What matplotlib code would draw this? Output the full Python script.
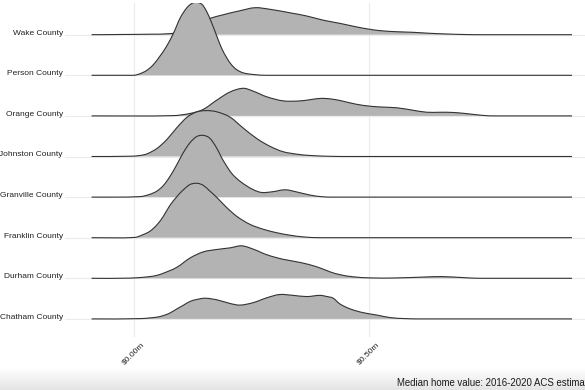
import numpy as np
import matplotlib
matplotlib.use("Agg")
import matplotlib.pyplot as plt
from matplotlib.path import Path
from matplotlib.patches import PathPatch

plt.rcParams['font.family'] = ['Liberation Sans', 'DejaVu Sans']

# ---------------- data ----------------
counties = ["Chatham County", "Durham County", "Franklin County", "Granville County",
            "Johnston County", "Orange County", "Person County", "Wake County"]
tick_values = [0.0, 0.5]
tick_labels = ["$0.00m", "$0.50m"]
caption = "Median home value: 2016-2020 ACS estimate"

# x in $ millions, h = scaled density height (1 = one ridge spacing)
wake_x = [-0.089, -0.029, 0.035, 0.077, 0.099, 0.120, 0.141, 0.162, 0.190, 0.226, 0.258, 0.290, 0.332,
          0.368, 0.402, 0.438, 0.470, 0.498, 0.523, 0.557, 0.593, 0.630, 0.666, 0.700, 0.736, 0.931]
wake_h = [0, 0.005, 0.012, 0.025, 0.07, 0.17, 0.30, 0.40, 0.49, 0.59, 0.665, 0.625, 0.54,
          0.46, 0.36, 0.28, 0.20, 0.14, 0.10, 0.074, 0.059, 0.034, 0.017, 0.005, 0, 0]

person_x = [-0.089, 0.000, 0.014, 0.028, 0.042, 0.056, 0.070, 0.085, 0.099, 0.113, 0.124, 0.133,
            0.145, 0.155, 0.166, 0.177, 0.187, 0.198, 0.208, 0.219, 0.233, 0.254, 0.283, 0.931]
person_h = [0, 0, 0.04, 0.12, 0.26, 0.47, 0.71, 1.04, 1.41, 1.66, 1.77, 1.80,
            1.75, 1.58, 1.29, 0.96, 0.67, 0.43, 0.26, 0.14, 0.06, 0.02, 0, 0]

orange_x = [-0.089, 0.084, 0.120, 0.148, 0.177, 0.205, 0.233, 0.254, 0.283, 0.318, 0.354, 0.396, 0.417,
            0.438, 0.460, 0.487, 0.523, 0.559, 0.593, 0.623, 0.651, 0.678, 0.708, 0.742, 0.768, 0.931]
orange_h = [0, 0.007, 0.06, 0.16, 0.39, 0.59, 0.68, 0.61, 0.47, 0.37, 0.37, 0.43, 0.42,
            0.38, 0.32, 0.26, 0.22, 0.20, 0.14, 0.09, 0.09, 0.085, 0.055, 0.012, 0, 0]

johnston_x = [-0.089, -0.007, 0.014, 0.029, 0.050, 0.071, 0.092, 0.114, 0.135, 0.156, 0.177,
              0.205, 0.232, 0.262, 0.290, 0.317, 0.347, 0.375, 0.417, 0.460, 0.931]
johnston_h = [0, 0.007, 0.025, 0.067, 0.20, 0.42, 0.71, 0.97, 1.10, 1.13, 1.10,
              0.97, 0.71, 0.44, 0.25, 0.12, 0.057, 0.025, 0.005, 0, 0]

granville_x = [-0.089, 0.014, 0.035, 0.050, 0.063, 0.077, 0.092, 0.106, 0.120, 0.134, 0.148, 0.162,
               0.176, 0.190, 0.211, 0.241, 0.269, 0.294, 0.322, 0.349, 0.375, 0.402, 0.428, 0.931]
granville_h = [0, 0.012, 0.07, 0.15, 0.28, 0.50, 0.80, 1.10, 1.34, 1.49, 1.52, 1.45,
               1.22, 0.91, 0.55, 0.27, 0.12, 0.13, 0.18, 0.12, 0.05, 0.007, 0, 0]

franklin_x = [-0.089, 0.003, 0.020, 0.035, 0.050, 0.063, 0.077, 0.092, 0.105, 0.120, 0.135, 0.148,
              0.162, 0.177, 0.199, 0.220, 0.247, 0.275, 0.305, 0.332, 0.360, 0.396, 0.931]
franklin_h = [0, 0.007, 0.074, 0.16, 0.32, 0.52, 0.79, 1.01, 1.17, 1.31, 1.34, 1.29,
              1.15, 0.99, 0.73, 0.52, 0.33, 0.21, 0.12, 0.062, 0.02, 0, 0]

durham_x = [-0.089, -0.007, 0.035, 0.050, 0.063, 0.092, 0.120, 0.148, 0.177, 0.205, 0.230, 0.256, 0.283,
            0.317, 0.354, 0.390, 0.417, 0.438, 0.466, 0.502, 0.555, 0.615, 0.655, 0.700, 0.736, 0.931]
durham_h = [0, 0.005, 0.042, 0.074, 0.123, 0.27, 0.50, 0.65, 0.71, 0.75, 0.80, 0.71, 0.58,
            0.47, 0.39, 0.28, 0.16, 0.09, 0.037, 0.01, 0.008, 0.03, 0.042, 0.017, 0, 0]

chatham_x = [-0.089, 0.014, 0.050, 0.063, 0.077, 0.092, 0.105, 0.120, 0.135, 0.152, 0.177, 0.205,
             0.226, 0.254, 0.283, 0.310, 0.339, 0.368, 0.396, 0.411, 0.424, 0.438, 0.460, 0.487,
             0.517, 0.545, 0.577, 0.609, 0.931]
chatham_h = [0, 0.007, 0.044, 0.081, 0.143, 0.246, 0.33, 0.43, 0.48, 0.51, 0.47, 0.38,
             0.34, 0.40, 0.52, 0.60, 0.58, 0.55, 0.58, 0.55, 0.51, 0.37, 0.246, 0.155,
             0.094, 0.032, 0.007, 0, 0]

ridges = {
    "Chatham County": (chatham_x, chatham_h),
    "Durham County": (durham_x, durham_h),
    "Franklin County": (franklin_x, franklin_h),
    "Granville County": (granville_x, granville_h),
    "Johnston County": (johnston_x, johnston_h),
    "Orange County": (orange_x, orange_h),
    "Person County": (person_x, person_h),
    "Wake County": (wake_x, wake_h),
}

# ---------------- helpers (smooth outline through the read points) ----------------
def tangents(x, y):
    x = np.asarray(x, float); y = np.asarray(y, float)
    m = np.zeros_like(y)
    for i in range(1, len(y) - 1):
        if y[i] <= 0:
            continue
        m[i] = (y[i + 1] - y[i - 1]) / (x[i + 1] - x[i - 1])
    return m

def ridge_path(x, y, base, closed):
    x = np.asarray(x, float); y = np.asarray(y, float) + base
    m = tangents(x, y - base)
    verts = [(x[0], y[0])]
    codes = [Path.MOVETO]
    for i in range(len(x) - 1):
        dx = x[i + 1] - x[i]
        verts += [(x[i] + dx / 3, y[i] + m[i] * dx / 3),
                  (x[i + 1] - dx / 3, y[i + 1] - m[i + 1] * dx / 3),
                  (x[i + 1], y[i + 1])]
        codes += [Path.CURVE4] * 3
    if closed:
        verts += [(x[-1], base), (x[0], base), (x[0], y[0])]
        codes += [Path.LINETO, Path.LINETO, Path.CLOSEPOLY]
    return Path(verts, codes)

# ---------------- figure ----------------
W, H = 585, 390
fig = plt.figure(figsize=(W / 100, H / 100), dpi=100)
fig.patch.set_facecolor("white")

# soft grey band at the very bottom of the picture
band = fig.add_axes([0, 0, 1, 22 / H])
grad = np.linspace(0, 1, 50).reshape(-1, 1)
band.imshow(grad, aspect="auto", cmap=matplotlib.colors.LinearSegmentedColormap.from_list(
    "g", ["#e4e4e4", "#ffffff"]), extent=[0, 1, 0, 1], origin="lower")
band.axis("off")

left_px, bottom_px, top_px = 65, 337, 3
ax = fig.add_axes([left_px / W, 1 - bottom_px / H, 1 - left_px / W, (bottom_px - top_px) / H])
x_per_px = 1 / 471.0
x0_px = 133.5
ax.set_xlim((left_px - x0_px) * x_per_px, (W - x0_px) * x_per_px)
spacing = 40.6
ax.set_ylim(-(bottom_px - 318.9) / spacing, 7 + (34.7 - top_px) / spacing)

for s in ax.spines.values():
    s.set_visible(False)

ax.set_yticks(range(len(counties)))
ax.set_yticklabels(counties)
ax.set_xticks(tick_values)
ax.set_xticklabels(tick_labels, rotation=45, ha="center", va="top")
ax.tick_params(axis="both", length=0, labelsize=6.0, colors="#222222")
ax.tick_params(axis="y", pad=1.5)
ax.tick_params(axis="x", pad=3.0)
for lab in ax.get_yticklabels():
    lab.set_va("baseline")
ax.grid(True, color="#ebebeb", linewidth=0.8)
ax.set_axisbelow(True)

n = len(counties)
for k in range(n - 1, -1, -1):
    name = counties[k]
    xs, hs = ridges[name]
    z = 10 + (n - k) * 2
    ax.add_patch(PathPatch(ridge_path(xs, hs, k, True), facecolor="#b3b3b3",
                           edgecolor="none", zorder=z))
    ax.add_patch(PathPatch(ridge_path(xs, hs, k, False), facecolor="none",
                           edgecolor="#333333", linewidth=0.8, zorder=z + 1))

fig.text(397 / W, 1 - 386 / H, caption, ha="left", va="baseline",
         fontsize=6.9, color="#1a1a1a")

fig.savefig("out.png", dpi=100)
